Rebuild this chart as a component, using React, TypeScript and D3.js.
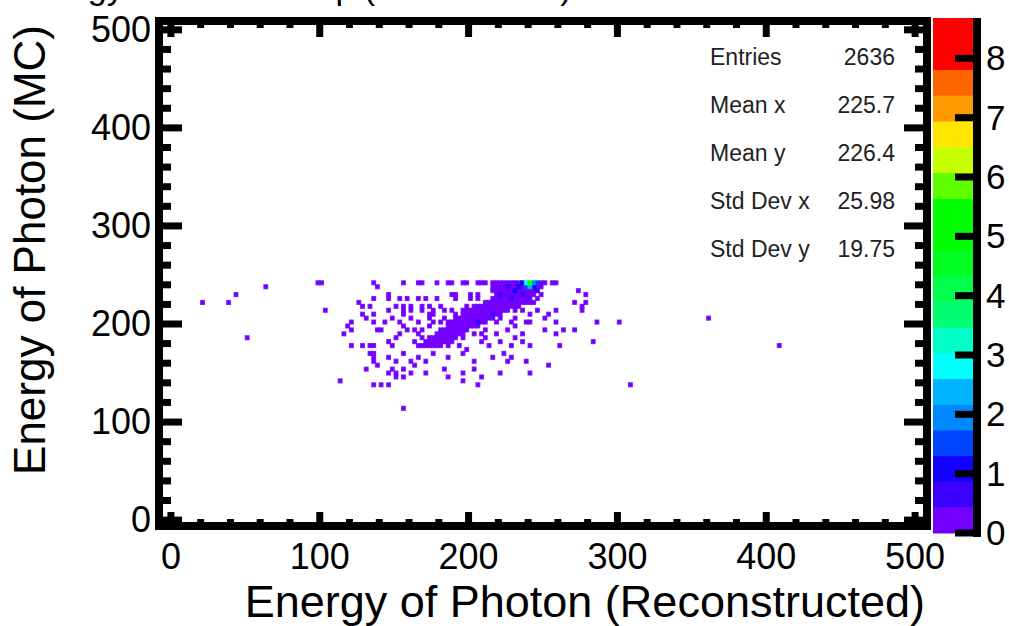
import React from 'react';
import * as d3 from 'd3';

// axis ticks
const xTicks = [0, 100, 200, 300, 400, 500];
const yTicks = [0, 100, 200, 300, 400, 500];
const zTicks = [0, 1, 2, 3, 4, 5, 6, 7, 8];

const titleText = 'Energy of Photon Map (Reco vs MC)';
const xTitle = 'Energy of Photon (Reconstructed)';
const yTitle = 'Energy of Photon (MC)';

const statNames = ['Entries', 'Mean x', 'Mean y', 'Std Dev x', 'Std Dev y'];
const statValues = ['2636', '225.7', '226.4', '25.98', '19.75'];

// 20 contour colours, bottom to top
const paletteColors = [
  '#7300ff', '#3c00ff', '#1400ff', '#0044ff', '#0088ff',
  '#00b4ff', '#00ffff', '#00ffc8', '#00ff70', '#00ff48',
  '#00ff20', '#00ff00', '#00ff00', '#60ff00', '#c8ff00',
  '#ffe600', '#ff9900', '#ff6600', '#ff0000', '#ff0000',
];

// single filled bins [x, y]
const sparseCells: [number, number][] = [
  [20, 221], [38, 222], [44, 228], [52, 186], [63, 239], [98, 242], [100, 242],
  [103, 215], [114, 141], [157, 114], [308, 139], [362, 205], [409, 176],
  [287, 201], [302, 202], [274, 234], [278, 221],
  [137, 242], [139, 239], [136, 225], [125, 220], [129, 217], [134, 217],
  [136, 211], [128, 211], [122, 201], [132, 204], [136, 201], [119, 196],
  [122, 193], [117, 189], [139, 193], [122, 177], [128, 177], [133, 177],
  [135, 179], [133, 171], [137, 171], [135, 166], [137, 160], [139, 157],
  [130, 155], [137, 139],
  [156, 241], [167, 241], [169, 241], [179, 241], [186, 241], [189, 241],
  [196, 241], [198, 241], [199, 241], [205, 241], [209, 241], [212, 241],
  [252, 241], [255, 241], [259, 241],
  [145, 231], [189, 231], [192, 231], [202, 231], [207, 231], [249, 231], [278, 231],
  [146, 224], [152, 219], [154, 224], [155, 219], [159, 224], [162, 219],
  [165, 224], [169, 219], [171, 224], [173, 219], [179, 224], [182, 219],
  [192, 224], [199, 219], [201, 224], [203, 219], [205, 224], [212, 219],
  [243, 222], [247, 224], [271, 222], [276, 219],
  [147, 213], [155, 215], [157, 210], [162, 213], [169, 215], [173, 211],
  [175, 214], [177, 209], [184, 213], [189, 215], [192, 210], [196, 213],
  [199, 209], [201, 215], [226, 213], [232, 213], [237, 214],
  [241, 211], [246, 213], [254, 210], [259, 213], [276, 212],
  [143, 203], [149, 205], [154, 201], [162, 204], [167, 202], [174, 205],
  [177, 200], [181, 203], [183, 205], [186, 201], [219, 203], [222, 205],
  [229, 201], [232, 204], [239, 203], [242, 200], [252, 204], [259, 201],
  [141, 194], [153, 190], [155, 196], [159, 192], [164, 195], [166, 189],
  [169, 193], [174, 196], [179, 191], [203, 189], [205, 196], [208, 191],
  [211, 194], [219, 189], [226, 193], [232, 196], [236, 190], [251, 193],
  [259, 189], [264, 195], [271, 192],
  [146, 180], [148, 176], [151, 184], [164, 181], [167, 177], [169, 184],
  [171, 180], [173, 176], [176, 182], [179, 178], [181, 185], [183, 180],
  [186, 176], [189, 182], [194, 178], [197, 184], [199, 175], [208, 180],
  [211, 184], [214, 177], [221, 181], [229, 178], [231, 184], [237, 181],
  [242, 176], [261, 179], [283, 182],
  [147, 166], [151, 160], [157, 168], [161, 163], [163, 158], [166, 166],
  [172, 161], [176, 168], [185, 164], [196, 168], [204, 160], [216, 165],
  [224, 169], [226, 161], [229, 166], [239, 163], [253, 158],
  [145, 150], [148, 153], [151, 146], [152, 151], [155, 154], [157, 147],
  [161, 151], [172, 149], [183, 153], [186, 146], [196, 150], [204, 154],
  [208, 146], [222, 151], [240, 148],
  [142, 139], [147, 137], [196, 140], [206, 137],
];

// dense rows of the main blob [y, xFrom, xTo]
const denseRows: [number, number, number][] = [
  [242, 216, 250], [238, 216, 250], [234, 217, 248], [230, 218, 245],
  [226, 216, 243], [222, 210, 226], [222, 229, 242], [218, 204, 224],
  [218, 227, 236], [214, 198, 213], [214, 216, 228], [210, 195, 222],
  [206, 191, 216], [202, 188, 212], [198, 185, 206], [194, 182, 201],
  [190, 178, 197], [186, 174, 192], [182, 171, 186], [178, 168, 172],
  [178, 176, 181],
];

// bins with higher content [x, y, z]
const hotCells: [number, number, number][] = [
  [240, 242, 5.3], [237.5, 242, 3.0], [242.5, 242, 2.0], [240, 238, 2.2],
  [245, 242, 1.4], [235, 242, 1.2], [237.5, 238, 1.5], [242.5, 238, 1.0],
  [232.5, 238, 0.9], [245, 234, 0.8], [230, 234, 0.9], [235, 230, 0.7],
  [225, 238, 0.6], [220, 230, 0.6], [227.5, 226, 0.7], [215, 210, 0.6],
  [205, 202, 0.6],
];

const X_BIN = 2.5;
const Y_BIN = 4;
const Z_MAX = 8.68;
const BASE_Z = 0.3;
const FONT = '"Liberation Sans", Arial, Helvetica, sans-serif';

export default function App() {
  const x = d3.scaleLinear().domain([-8, 508]).range([159, 927]);
  const y = d3.scaleLinear().domain([-6, 509]).range([526, 21]);
  const z = d3.scaleLinear().domain([0, Z_MAX]).range([533, 18]);
  const zColor = d3.scaleQuantize<string>().domain([0, Z_MAX]).range(paletteColors);

  const bins = new Map<string, { bx: number; by: number; v: number }>();
  const put = (xv: number, yv: number, v: number) => {
    const bx = Math.floor(xv / X_BIN) * X_BIN;
    const by = Math.floor(yv / Y_BIN) * Y_BIN;
    const key = bx + ',' + by;
    const old = bins.get(key);
    if (!old || old.v < v) bins.set(key, { bx, by, v });
  };
  sparseCells.forEach(([a, b]) => put(a, b, BASE_Z));
  denseRows.forEach(([row, from, to]) => {
    for (let a = from; a <= to; a += X_BIN) put(a, row, BASE_Z);
  });
  hotCells.forEach(([a, b, v]) => put(a, b, v));
  // draw low bins first so the hot ones sit on top
  const binList = [...bins.values()].sort((a, b) => a.v - b.v);

  const minorX = d3.range(0, 501, 20).filter((d) => d % 100 !== 0);
  const minorY = d3.range(0, 501, 20).filter((d) => d % 100 !== 0);
  const [left, right] = x.range();
  const [bottom, top] = y.range();
  const tw = 7;

  return (
    <svg
      width={1009}
      height={626}
      style={{ position: 'absolute', left: 0, top: 0, background: '#fff' }}
      fontFamily={FONT}
    >
      <text x={16} y={-1} fontSize={34}>{titleText}</text>

      {/* bins */}
      {binList.map((b, i) => (
        <rect
          key={i}
          x={x(b.bx)}
          y={y(b.by + Y_BIN)}
          width={x(b.bx + X_BIN) - x(b.bx)}
          height={y(b.by) - y(b.by + Y_BIN)}
          fill={zColor(b.v)}
          stroke={zColor(b.v)}
          strokeWidth={1.2}
          strokeOpacity={0.8}
        />
      ))}

      {/* stats */}
      {statNames.map((s, i) => (
        <g key={s} fontSize={23} fill="#222">
          <text x={710} y={65 + i * 48}>{s}</text>
          <text x={895} y={65 + i * 48} textAnchor="end">{statValues[i]}</text>
        </g>
      ))}

      {/* palette */}
      {paletteColors.map((c, i) => (
        <rect
          key={i}
          x={933}
          y={z(((i + 1) * Z_MAX) / 20)}
          width={40}
          height={z((i * Z_MAX) / 20) - z(((i + 1) * Z_MAX) / 20) + 0.5}
          fill={c}
        />
      ))}
      <line x1={977} x2={977} y1={18} y2={537} stroke="#000" strokeWidth={8} />
      {zTicks.map((t) => (
        <g key={t}>
          <line x1={977} x2={955} y1={z(t)} y2={z(t)} stroke="#000" strokeWidth={tw} />
          <text x={986} y={z(t) + 12} fontSize={35}>{t}</text>
        </g>
      ))}

      {/* frame + ticks */}
      <rect x={left} y={top} width={right - left} height={bottom - top} fill="none" stroke="#000" strokeWidth={8} />
      {yTicks.map((t) => (
        <g key={'y' + t}>
          <line x1={left} x2={left + 23} y1={y(t)} y2={y(t)} stroke="#000" strokeWidth={tw} />
          <line x1={right} x2={right - 23} y1={y(t)} y2={y(t)} stroke="#000" strokeWidth={tw} />
          <text x={151} y={y(t) + 12} fontSize={36} textAnchor="end">{t}</text>
        </g>
      ))}
      {minorY.map((t) => (
        <g key={'my' + t}>
          <line x1={left} x2={left + 12} y1={y(t)} y2={y(t)} stroke="#000" strokeWidth={tw} />
          <line x1={right} x2={right - 12} y1={y(t)} y2={y(t)} stroke="#000" strokeWidth={tw} />
        </g>
      ))}
      {xTicks.map((t) => (
        <g key={'x' + t}>
          <line x1={x(t)} x2={x(t)} y1={bottom} y2={bottom - 14} stroke="#000" strokeWidth={tw} />
          <line x1={x(t)} x2={x(t)} y1={top} y2={top + 16} stroke="#000" strokeWidth={tw} />
          <text x={x(t)} y={569} fontSize={36} textAnchor="middle">{t}</text>
        </g>
      ))}
      {minorX.map((t) => (
        <g key={'mx' + t}>
          <line x1={x(t)} x2={x(t)} y1={bottom} y2={bottom - 7} stroke="#000" strokeWidth={tw} />
          <line x1={x(t)} x2={x(t)} y1={top} y2={top + 7} stroke="#000" strokeWidth={tw} />
        </g>
      ))}

      {/* axis titles */}
      <text x={925} y={617} fontSize={45} textAnchor="end">{xTitle}</text>
      <text transform="rotate(-90)" x={-25} y={45} fontSize={44} textAnchor="end">{yTitle}</text>
    </svg>
  );
}
